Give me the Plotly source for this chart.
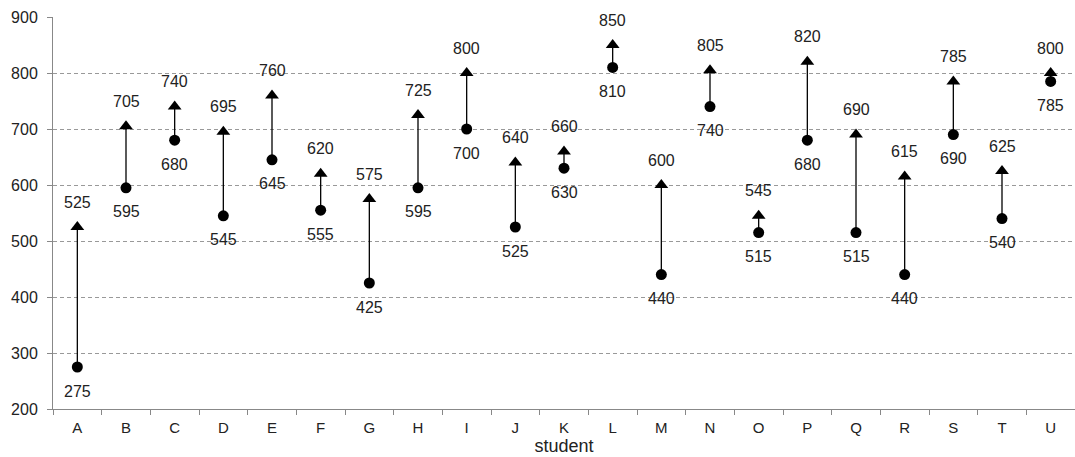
import plotly.graph_objects as go

students = list("ABCDEFGHIJKLMNOPQRSTU")
start_scores = [275, 595, 680, 545, 645, 555, 425, 595, 700, 525, 630, 810, 440, 740, 515, 680, 515, 440, 690, 540, 785]
end_scores = [525, 705, 740, 695, 760, 620, 575, 725, 800, 640, 660, 850, 600, 805, 545, 820, 690, 615, 785, 625, 800]

fig = go.Figure()

# connecting segments
lx, ly = [], []
for s, a, b in zip(students, start_scores, end_scores):
    lx += [s, s, None]
    ly += [a, b, None]
fig.add_trace(go.Scatter(x=lx, y=ly, mode="lines", line=dict(color="black", width=1.3),
                         hoverinfo="skip", showlegend=False))

fig.add_trace(go.Scatter(x=students, y=start_scores, mode="markers",
                         marker=dict(symbol="circle", size=11, color="black"), showlegend=False))
fig.add_trace(go.Scatter(x=students, y=end_scores, mode="markers",
                         marker=dict(symbol="triangle-up", size=12, color="black"), showlegend=False))

font = dict(family="Liberation Sans, Arial, sans-serif", size=16, color="#222")
for s, a, b in zip(students, start_scores, end_scores):
    fig.add_annotation(x=s, y=b, text=str(b), showarrow=False, yshift=25, font=font)
    fig.add_annotation(x=s, y=a, text=str(a), showarrow=False, yshift=-24, font=font)

fig.update_layout(
    width=1075, height=457, autosize=False,
    margin=dict(l=53, r=0, t=17, b=48),
    plot_bgcolor="white", paper_bgcolor="white",
    font=dict(family="Liberation Sans, Arial, sans-serif", size=15, color="#222"),
)
fig.update_xaxes(type="category", categoryorder="array", categoryarray=students,
                 range=[-0.5, 20.5], automargin=False,
                 showline=True, linecolor="#888", linewidth=1,
                 ticks="outside", tickson="boundaries", ticklen=5, tickcolor="#888",
                 ticklabelstandoff=5,
                 showgrid=False, tickfont=dict(size=15),
                 title=dict(text="student", font=dict(size=18), standoff=2))
fig.update_yaxes(range=[200, 900], dtick=100, tick0=200, automargin=False,
                 showline=True, linecolor="#888", linewidth=1,
                 ticks="outside", ticklen=5, tickcolor="#888",
                 ticklabelstandoff=6,
                 showgrid=True, gridcolor="#999", griddash="4px,3px", gridwidth=1,
                 zeroline=False, tickfont=dict(size=16))

fig.write_html("out.html", config={"displayModeBar": False},
               post_script="document.body.style.margin='0';document.body.style.overflow='hidden';")
